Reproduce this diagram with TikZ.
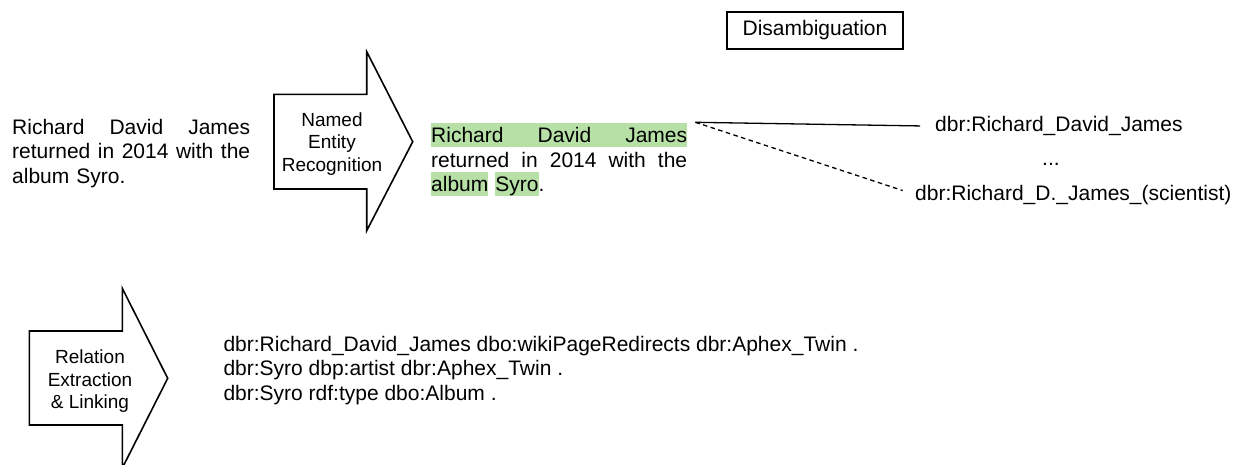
\documentclass[tikz,border=0pt]{standalone}
\usepackage{fontspec}
\setmainfont{Liberation Sans}

\definecolor{hlgreen}{RGB}{182,224,165}
\newcommand{\hlstrut}{\rule[-4.5pt]{0pt}{24.5pt}}
\newcommand{\hlbox}[1]{{\setlength{\fboxsep}{0pt}\colorbox{hlgreen}{\hlstrut#1}}}

\tikzset{
  txt/.style={inner sep=0pt, font=\fontsize{21}{24.6}\selectfont},
  cand/.style={txt, anchor=base west},
  stage/.style={inner sep=0pt, align=center, font=\fontsize{19}{22.8}\selectfont},
  stagearrow/.style={draw, line width=1.6pt, fill=white},
}

\begin{document}
\begin{tikzpicture}[x=1pt, y=-1pt]

\useasboundingbox (0,0) rectangle (1241,464);

\node[txt, text width=238pt, align=left, anchor=north west] (src) at (12,118.7) {\makebox[238pt]{Richard\hfill David\hfill James}\\\makebox[238pt]{returned\hfill in\hfill 2014\hfill with\hfill the}\\album Syro.};

\draw[stagearrow] (274,94.3) -- (366.7,94.3) -- (366.7,51.7) -- (412.7,141.7) -- (366.7,230.7) -- (366.7,189) -- (274,189) -- cycle;
\node[stage] (ner) at (332,143.9) {Named\\Entity\\Recognition};

\node[txt, text width=256pt, align=left, anchor=north west] (tagged) at (431,122.3) {\hlbox{\makebox[256pt]{Richard\hfill David\hfill James}}\\\makebox[256pt]{returned\hfill in\hfill 2014\hfill with\hfill the}\\\hlbox{album}\ \hlbox{Syro}.};

\node[draw, line width=1.2pt, minimum width=176pt, minimum height=37pt, font=\fontsize{21}{24.6}\selectfont] (disamb) at (815,30.5) {Disambiguation};

\node[cand] (cand1) at (935,131.7) {dbr:Richard\_David\_James};
\node[cand] (dots) at (1042,165) {...};
\node[cand] (cand2) at (915,200) {dbr:Richard\_D.\_James\_(scientist)};

\coordinate (fork) at ([xshift=8pt]tagged.north east);
\draw[line width=1.3pt, shorten >=15pt] (fork) -- (cand1.west);
\draw[line width=1.3pt, dash pattern=on 4.5pt off 3.5pt, shorten >=13pt] (fork) -- (cand2.west);

\draw[stagearrow] (29.3,331) -- (122.3,331) -- (122.3,288.3) -- (167.7,378.3) -- (122.3,468) -- (122.3,425) -- (29.3,425) -- cycle;
\node[stage] (rel) at (90,381.2) {Relation\\Extraction\\\& Linking};

\node[txt, align=left, anchor=north west] (triples) at (223.3,335.7) {dbr:Richard\_David\_James dbo:wikiPageRedirects dbr:Aphex\_Twin .\\dbr:Syro dbp:artist dbr:Aphex\_Twin .\\dbr:Syro rdf:type dbo:Album .};

\end{tikzpicture}
\end{document}
